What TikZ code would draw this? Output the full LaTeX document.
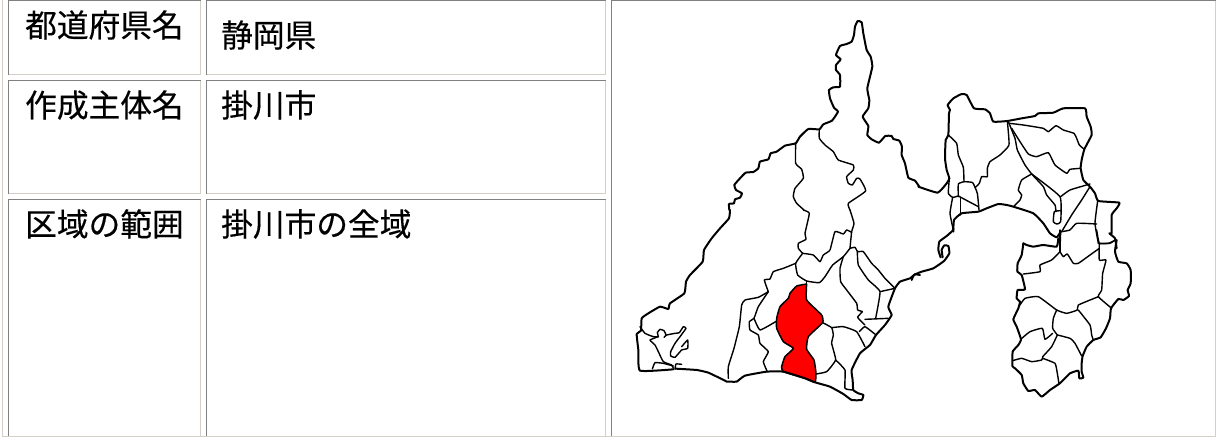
\documentclass[tikz,border=0pt]{standalone}
\usepackage{fontspec}
\newfontfamily\cjk[FakeBold=0.35]{Noto Sans CJK JP}
\definecolor{cellhi}{HTML}{D4D0C8}
\definecolor{celllo}{HTML}{808080}
\tikzset{
  x=1pt,y=-1pt,
  outer/.style={draw=black,line width=2pt,line join=round,line cap=round},
  inner/.style={draw=black,line width=1.4pt,line join=round,line cap=round},
  label/.style={font=\cjk\fontsize{31.7}{32}\selectfont,anchor=base west,inner sep=0pt,text=black},
  z1/.style={x=0.3333pt,y=-0.3333pt,shift={(630pt,-10pt)}},
  z2/.style={x=0.3333pt,y=-0.3333pt,shift={(630pt,-210pt)}},
  z3/.style={x=0.3333pt,y=-0.3333pt,shift={(900pt,-80pt)}},
  z4/.style={x=0.3333pt,y=-0.3333pt,shift={(980pt,-230pt)}},
  z8/.style={x=0.3333pt,y=-0.3333pt,shift={(640pt,-320pt)}},
  z9/.style={x=0.3333pt,y=-0.3333pt,shift={(900pt,-200pt)}},
}
\newcommand{\cellbox}[4]{%
  \draw[celllo,line width=1pt] (#1,#4)--(#1,#2)--(#3,#2);
  \draw[cellhi,line width=1pt] (#3,#2)--(#3,#4)--(#1,#4);
}
\newcommand{\sm}[2]{\draw[#1] plot[smooth,tension=0.25] coordinates {#2};}
\begin{document}
\begin{tikzpicture}
\useasboundingbox (0,0) rectangle (1217,437);
\fill[white] (0,0) rectangle (1217,437);
% table
\draw[cellhi,line width=1pt] (2.5,0)--(2.5,436.5)--(1215.5,436.5)--(1215.5,0);
\cellbox{8.5}{0.5}{200.5}{74.5}
\cellbox{206.5}{0.5}{605.5}{74.5}
\cellbox{8.5}{80.5}{200.5}{193.5}
\cellbox{206.5}{80.5}{605.5}{193.5}
\cellbox{8.5}{199.5}{200.5}{436}
\cellbox{206.5}{199.5}{605.5}{436}
\cellbox{611.5}{0.5}{1215.5}{436}
\node[label] (t1) at (25,37) {都道府県名};
\node[label] (t2) at (221,47) {静岡県};
\node[label] (t3) at (25,117) {作成主体名};
\node[label] (t4) at (221,117) {掛川市};
\node[label] (t5) at (25,236) {区域の範囲};
\node[label] (t6) at (221,236) {掛川市の全域};
% map: red municipality
\begin{scope}[z2]
\draw[inner,fill=red,line width=1.5pt] plot[smooth,tension=0.25] coordinates {(530,222)(500,228)(480,250)(475,265)(450,290)(440,325)(440,355)(460,395)(490,415)(465,440)(455,470)(460,485)(525,505)(555,517)(558,490)(552,450)(530,418)(535,380)(578,338)(575,315)(530,270)(530,222)};
\sm{inner}{(578,338)(605,353)(610,375)(605,400)(617,450)(590,485)(558,492)}
\sm{inner}{(605,353)(640,350)(680,365)(705,410)}
\sm{inner}{(688,365)(705,350)(738,375)}
\sm{inner}{(617,450)(645,480)(645,535)(670,540)}
\sm{inner}{(518,130)(550,135)(570,155)(580,135)(600,120)(615,65)(640,72)(650,60)(665,67)}
\sm{inner}{(660,115)(675,112)(683,125)(700,125)(725,160)(745,180)(765,205)(795,235)}
\sm{inner}{(518,130)(497,160)(503,195)(530,213)(568,218)(585,200)(608,165)(640,140)(660,115)}
\sm{inner}{(497,160)(460,175)(430,185)(420,207)(403,210)(415,245)}
\sm{inner}{(415,245)(385,262)(345,270)(335,285)(328,350)(312,415)(295,470)(295,505)}
\sm{inner}{(415,245)(385,290)(372,325)(358,335)(360,360)(385,375)(390,400)(415,425)(400,455)(412,485)}
\sm{inner}{(372,325)(390,360)(437,335)}
\sm{inner}{(530,213)(530,222)}
\sm{inner}{(640,140)(630,175)(632,215)(650,240)(680,280)(683,300)(697,305)(683,322)(705,345)}
\sm{inner}{(705,328)(775,325)}
\sm{inner}{(682,125)(685,165)(715,210)(750,245)(737,325)}
\sm{inner}{(750,245)(795,235)}
\sm{inner}{(520,0)(538,10)(525,70)(528,88)(505,100)(505,115)(518,130)}
\sm{inner}{(660,0)(672,40)(665,65)(660,115)}
\sm{outer}{(300,0)(297,25)(270,55)(245,85)(222,120)(218,155)(180,195)(168,215)(163,250)(120,280)(115,297)(90,290)(55,310)(35,325)(33,362)(20,372)(25,420)(30,482)(130,478)}
\sm{outer}{(137,476)(200,480)(235,488)(285,512)(290,515)(303,515)(320,515)(345,497)(410,485)(460,485)(525,505)(555,517)(600,530)(640,552)(665,570)(695,570)(700,555)(685,550)(670,540)(668,510)(665,480)(690,430)(720,405)(738,375)(765,345)(785,315)(775,290)(795,235)(810,215)(840,205)(855,193)(870,195)}
\end{scope}
\begin{scope}[z8]
\sm{inner}{(0,20)(15,40)(40,50)(55,50)(52,38)(60,28)(72,32)(78,45)(72,52)(80,45)(105,40)(118,38)(130,20)(138,25)(120,50)(105,70)(92,95)(92,108)(105,112)(125,90)(143,85)(143,60)(125,80)}
\sm{inner}{(55,50)(30,60)(45,75)(55,95)(70,125)(95,135)(100,145)}
\sm{inner}{(100,138)(70,130)(45,128)(37,147)}
\sm{inner}{(105,148)(108,132)(125,133)}
\end{scope}
\begin{scope}[z1]
\sm{outer}{(298,600)(297,582)(312,580)(315,568)(330,563)(336,550)(318,540)(313,525)(330,505)(347,488)(370,486)(385,475)(390,455)(415,448)(422,430)(440,425)(465,407)(497,400)(510,380)(535,357)(568,358)(580,343)(606,332)(624,305)(612,293)(600,265)(597,240)(610,232)(630,230)(630,195)(618,180)(618,165)(632,148)(618,135)(630,108)(650,102)(665,95)(672,75)(675,50)(683,33)(695,37)(700,70)(710,120)(722,140)(727,170)(712,235)(718,270)(715,295)(698,320)(715,348)(712,375)(725,388)(747,398)(766,378)(785,378)(790,387)(808,392)(816,410)(815,435)(825,460)(835,503)(855,512)(868,530)}
\sm{inner}{(497,400)(497,460)(515,478)(520,505)(495,535)(490,560)(500,580)(522,600)}
\sm{inner}{(568,358)(568,385)(585,405)(610,425)(625,450)(670,465)(670,480)(650,500)(655,520)(667,525)(680,505)(690,507)(707,543)(655,580)(660,600)}
\end{scope}
\begin{scope}[z3]
\sm{outer}{(55,320)(113,338)(140,310)(148,295)(140,270)(135,235)(137,180)(145,165)(147,100)(150,90)(143,75)(160,55)(185,42)(200,45)(222,85)(255,88)(270,100)(280,125)(322,123)(365,115)(405,108)(415,100)(460,98)(490,85)(555,85)(560,110)(572,140)(575,165)(553,208)(545,240)(542,265)(550,300)(570,320)(585,340)(595,363)(658,368)(650,385)(635,405)(635,460)(628,460)(645,475)(650,505)}
\sm{outer}{(160,455)(162,420)(185,400)(235,395)(260,385)(295,372)(320,375)(340,380)(400,400)(430,430)(450,460)(470,472)(482,455)}
\sm{inner}{(145,165)(170,190)(175,225)(190,262)(192,305)}
\sm{inner}{(192,305)(175,312)(175,350)}
\sm{inner}{(192,305)(218,308)(232,340)(237,390)}
\sm{inner}{(175,348)(158,352)(145,340)(148,295)}
\sm{inner}{(175,348)(235,380)}
\sm{inner}{(158,352)(150,400)(160,450)}
\sm{inner}{(182,355)(182,405)}
\sm{inner}{(322,123)(327,195)(300,225)(270,245)(262,265)(262,290)(245,290)(238,310)(225,323)}
\sm{inner}{(325,125)(345,175)(352,210)(375,255)(395,282)(430,320)(440,345)(465,375)(468,395)}
\sm{inner}{(395,282)(365,300)(355,330)(365,345)(360,360)(342,378)}
\sm{inner}{(395,282)(480,350)(482,425)(470,432)(460,425)(463,395)(482,392)}
\sm{inner}{(482,350)(510,330)(570,312)}
\sm{inner}{(570,320)(545,360)(515,405)(485,455)}
\sm{inner}{(485,455)(510,450)(530,430)(590,432)}
\sm{inner}{(593,363)(585,430)(595,490)}
\sm{inner}{(595,490)(605,490)(630,490)(645,480)}
\sm{inner}{(328,130)(370,135)(430,145)(445,155)(468,137)(490,150)(522,160)(530,175)(538,195)(553,208)}
\sm{inner}{(335,145)(360,185)(385,222)(410,230)(445,218)(465,255)(500,280)(510,268)(542,265)}
\sm{inner}{(482,455)(480,510)}
\sm{outer}{(370,490)(380,495)(400,500)(430,495)(470,500)(475,475)}
\end{scope}
\begin{scope}[z4]
\sm{outer}{(410,30)(405,65)(415,95)(440,100)(452,120)(452,160)(443,180)(447,198)(430,210)(415,207)(393,235)(390,265)(378,295)(362,322)(340,330)(320,350)(308,378)(305,400)(305,425)(310,443)(298,445)(295,422)(270,430)(250,450)(237,462)(210,480)(185,500)(165,480)(145,483)(130,460)(125,435)(105,415)(97,408)(98,365)(115,345)(123,328)(110,290)(100,268)(115,235)(120,215)(110,205)(113,180)(135,178)(125,135)(112,125)(113,100)(125,75)(130,40)}
\sm{inner}{(240,0)(240,65)}
\sm{inner}{(240,65)(215,90)(180,105)(180,125)(130,132)}
\sm{inner}{(240,65)(250,80)(262,72)(280,100)(295,100)(330,75)(358,55)}
\sm{inner}{(350,0)(358,40)(385,40)(408,30)}
\sm{inner}{(358,40)(358,90)(378,90)(368,130)(365,180)(355,200)(395,235)}
\sm{inner}{(355,200)(295,225)(292,240)(260,250)(230,240)(175,200)(135,205)(120,225)}
\sm{inner}{(230,240)(220,265)(218,295)(232,315)}
\sm{inner}{(295,240)(330,285)(335,315)(340,330)}
\sm{inner}{(232,315)(270,325)(285,340)(305,378)}
\sm{inner}{(232,315)(215,350)(188,380)}
\sm{inner}{(218,310)(195,328)(187,295)(150,305)(122,328)}
\sm{inner}{(188,380)(185,390)(155,395)(125,385)(98,392)}
\sm{inner}{(188,385)(225,400)(232,430)(237,462)}
\end{scope}
\begin{scope}[z9]
\sm{outer}{(35,240)(42,225)(65,215)(100,205)(132,183)(148,160)(145,138)(133,136)(125,150)(128,172)}
\sm{outer}{(122,172)(115,150)(118,125)(140,108)(158,92)(160,85)}
\end{scope}
\end{tikzpicture}
\end{document}
